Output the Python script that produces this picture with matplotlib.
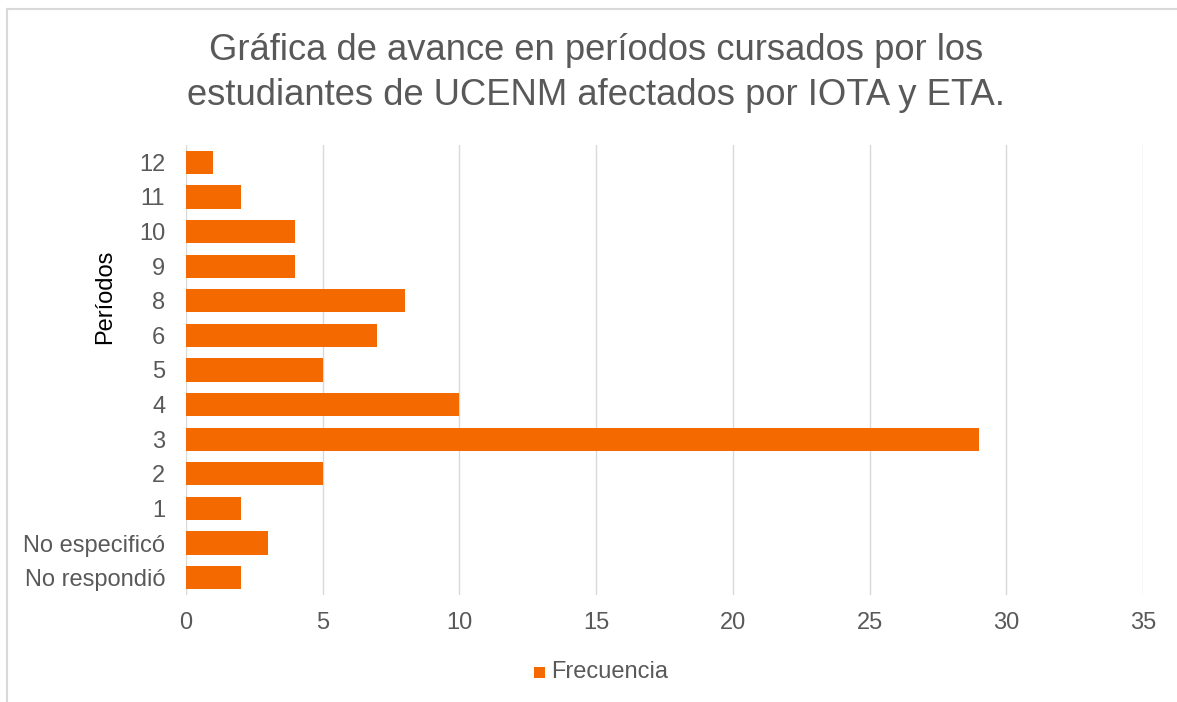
import matplotlib
matplotlib.use("Agg")
import matplotlib.pyplot as plt
from matplotlib.patches import Rectangle
from matplotlib.lines import Line2D

categories = ["No respondió", "No especificó", "1", "2", "3", "4", "5", "6", "8", "9", "10", "11", "12"]
frecuencia = [2, 3, 2, 5, 29, 10, 5, 7, 8, 4, 4, 2, 1]
x_ticks = [0, 5, 10, 15, 20, 25, 30, 35]

plt.rcParams['font.family'] = ['Liberation Sans', 'DejaVu Sans']
W, H = 1177, 702
fig = plt.figure(figsize=(W / 100, H / 100), dpi=100)
ax = fig.add_axes([186 / W, 1 - 595 / H, (1143 - 186) / W, (595 - 145) / H])

bar_color = "#F46A00"
text_color = "#595959"
ypos = list(range(len(categories)))
ax.barh(ypos, frecuencia, height=0.67, color=bar_color, zorder=3)
ax.set_xlim(0, 35)
ax.set_ylim(-0.5, len(categories) - 0.5)
ax.set_xticks(x_ticks)
ax.set_yticks(ypos)
ax.set_yticklabels(categories)
ax.tick_params(axis='both', length=0, labelsize=17, colors=text_color)
ax.tick_params(axis='x', pad=12.5)
ax.tick_params(axis='y', pad=15)
ax.grid(axis='x', color="#D9D9D9", linewidth=1, zorder=0)
for s in ax.spines.values():
    s.set_visible(False)

fig.text(596 / W, 1 - 73 / H, "Gráfica de avance en períodos cursados por los\nestudiantes de UCENM afectados por IOTA y ETA.",
         ha='center', va='center', fontsize=26.2, color=text_color, linespacing=1.36)
fig.text(105 / W, 1 - 297 / H, "Períodos", rotation=90, ha='center', va='center', fontsize=17, color="black")

# legend
fig.patches.append(Rectangle((534 / W, 1 - 678 / H), 11 / W, 11 / H, transform=fig.transFigure,
                             facecolor=bar_color, edgecolor='none'))
fig.text(551 / W, 1 - 672 / H, "Frecuencia", ha='left', va='center', fontsize=17, color=text_color)

# chart border (top and left)
fig.add_artist(Line2D([7 / W, 1], [1 - 9 / H, 1 - 9 / H], transform=fig.transFigure, color="#D9D9D9", linewidth=1.5))
fig.add_artist(Line2D([7 / W, 7 / W], [0, 1 - 9 / H], transform=fig.transFigure, color="#D9D9D9", linewidth=1.5))

fig.savefig("out.png", dpi=100, facecolor="white")
